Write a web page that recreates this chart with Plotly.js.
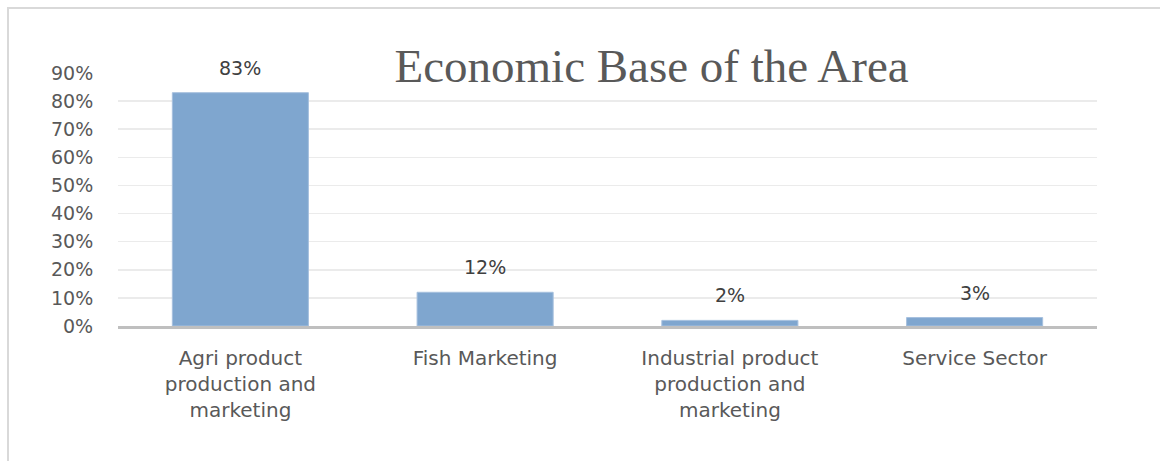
<!DOCTYPE html>
<html>
<head>
<meta charset="utf-8">
<script src="https://cdn.plot.ly/plotly-3.0.1.min.js"></script>
<style>
  html, body { margin: 0; padding: 0; background: #fff; }
  #wrap { position: relative; width: 1160px; height: 461px; overflow: hidden; }
  #chart { width: 1160px; height: 461px; }
  #frame { position: absolute; left: 7px; top: 7px; width: 1200px; height: 520px;
           border: 2px solid #d9d9d9; pointer-events: none; box-sizing: border-box; }
</style>
</head>
<body>
<div id="wrap">
  <div id="chart"></div>
  <div id="frame"></div>
</div>
<script>
const categories = ["Agri product production and marketing", "Fish Marketing", "Industrial product production and marketing", "Service Sector"];
const tickLabels = ["Agri product<br>production and<br>marketing", "Fish Marketing", "Industrial product<br>production and<br>marketing", "Service Sector"];
const shares = [0.83, 0.12, 0.02, 0.03];
const dataLabels = ["83%", "12%", "2%", "3%"];
const titleText = "Economic Base of the Area";

const trace = {
  type: "bar",
  x: categories,
  y: shares,
  marker: { color: "#7FA6CF", line: { color: "#A6C0DE", width: 1 } },
  hoverinfo: "skip"
};

const annotations = categories.map((c, i) => ({
  x: c, y: shares[i], xref: "x", yref: "y",
  text: dataLabels[i], showarrow: false,
  yanchor: "bottom", yshift: 12,
  font: { family: "DejaVu Sans", size: 19, color: "#404040" }
}));

const layout = {
  width: 1160, height: 461,
  margin: { l: 118, r: 63, t: 73, b: 135 },
  paper_bgcolor: "#ffffff",
  plot_bgcolor: "#ffffff",
  showlegend: false,
  bargap: 0.444,
  title: {
    text: titleText,
    font: { family: "Liberation Serif", size: 47, color: "#595959" },
    xref: "paper", x: 0.545, xanchor: "center",
    yref: "container", y: 1 - 66 / 461, yanchor: "middle"
  },
  xaxis: {
    type: "category",
    tickvals: categories,
    ticktext: tickLabels,
    showline: true, linecolor: "#BFBFBF", linewidth: 2.5,
    showgrid: false, zeroline: false,
    ticks: "outside", ticklen: 12, tickcolor: "rgba(0,0,0,0)",
    tickfont: { family: "DejaVu Sans", size: 20, color: "#595959" },
    fixedrange: true
  },
  yaxis: {
    range: [0, 0.9],
    dtick: 0.1, tick0: 0,
    tickformat: ".0%",
    showgrid: true, gridcolor: "#EBEBEB", gridwidth: 1.5,
    zeroline: false, showline: false,
    ticks: "outside", ticklen: 20, tickcolor: "rgba(0,0,0,0)",
    tickfont: { family: "DejaVu Sans", size: 19, color: "#595959" },
    fixedrange: true
  },
  annotations: annotations
};

Plotly.newPlot("chart", [trace], layout, { displayModeBar: false, staticPlot: true });
</script>
</body>
</html>
